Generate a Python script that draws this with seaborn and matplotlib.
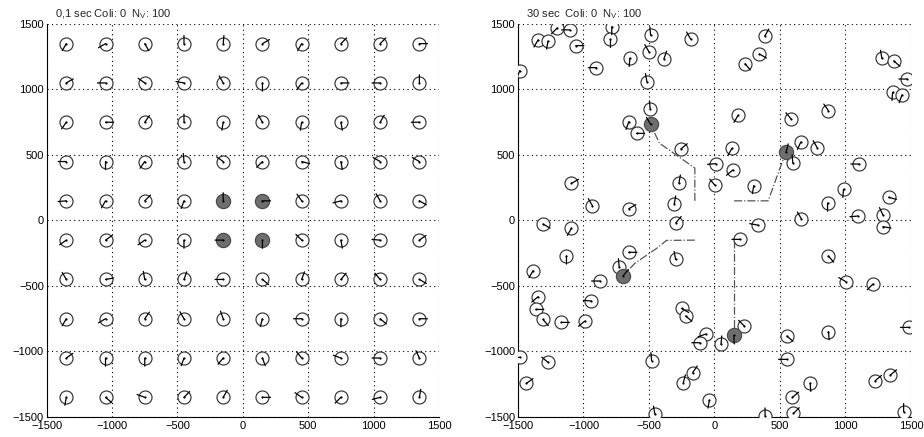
import numpy as np
import matplotlib
matplotlib.use("Agg")
import matplotlib.pyplot as plt
import seaborn as sns

# left panel: 10x10 start grid, heading of each vehicle (deg), row by row from top
grid_pos = [-1350, -1050, -750, -450, -150, 150, 450, 750, 1050, 1350]
left_heading = [
    [240, 210, 300, 90, 85, 30, 240, 45, 45, 0],
    [30, 180, 145, 170, 120, 270, 235, 0, 180, 90],
    [235, 0, 55, 90, 260, 120, 260, 280, 60, 180],
    [180, 270, 235, 95, 145, 225, 345, 280, 150, 150],
    [185, 240, 45, 250, 90, 0, 125, 195, 120, 330],
    [215, 35, 215, 270, 180, 270, 135, 280, 175, 35],
    [120, 10, 100, 70, 180, 320, 70, 50, 130, 330],
    [240, 210, 55, 120, 110, 255, 180, 270, 320, 0],
    [35, 270, 270, 250, 230, 290, 130, 160, 180, 115],
    [260, 320, 160, 45, 60, 0, 145, 225, 195, 80],
]
left_tracked_x = [-150, 150, -150, 150]
left_tracked_y = [150, 150, -150, -150]

# right panel: positions after 30 s
right_x = [-1200, -1105, -1347, -1271, -1059, -1487, -901, -784, -794, -646,
           -488, -501, -386, -182, -516, -491, -654, -595, -256, -271,
           -307, -654, -932, -1092, 9, 4, 134, 139, 300, 180,
           233, 343, 384, 598, 585, 659, 784, 870, 1103, 985,
           863, 1329, 1278, 1368, 1470, 1360, 1431, 664, 330, 1095,
           1286, 1286, -1309, -1092, -294, -1130, -1385, -1347, -1365, -1309,
           -1169, -990, -939, -876, -1487, -1271, -1436, -728, -654, -297,
           -251, -220, -67, -111, 50, 228, 195, -480, -167, -238,
           -39, -455, 386, 552, 552, 595, 603, 730, 870, 870,
           1003, 1210, 1227, 1342, 1444, 1482]
right_y = [1470, 1455, 1378, 1370, 1335, 1144, 1167, 1480, 1383, 1238,
           1416, 1289, 1235, 1385, 1060, 851, 754, 665, 546, 286,
           126, 90, 113, 283, 434, 268, 551, 385, 266, 803,
           1197, 1271, 1408, 439, 775, 599, 556, 838, 431, 238,
           133, 177, 1238, 1218, 1080, 978, 958, 11, -35, 34,
           42, -47, -27, -60, -17, -271, -383, -582, -679, -755,
           -778, -768, -615, -462, -1045, -1083, -1243, -353, -243, -297,
           -671, -729, -867, -933, -943, -806, -144, -1070, -1162, -1238,
           -1371, -1478, -1493, -882, -1060, -1350, -1473, -1243, -849, -271,
           -467, -485, -1223, -1180, -1460, -816]
right_heading = [225, 180, 240, 260, 0, 250, 180, 270, 270, 265,
                 95, 120, 70, 120, 100, 95, 250, 0, 40, 80,
                 80, 30, 120, 30, 185, 130, 240, 220, 260, 240,
                 310, 330, 60, 95, 130, 245, 120, 125, 180, 265,
                 270, 345, 100, 320, 180, 265, 250, 120, 170, 185,
                 115, 350, 330, 240, 50, 270, 240, 220, 0, 310,
                 0, 220, 175, 180, 180, 140, 35, 95, 0, 100,
                 330, 320, 200, 180, 85, 135, 180, 95, 55, 75,
                 260, 100, 90, 320, 180, 40, 45, 275, 275, 310,
                 150, 225, 40, 40, 90, 180]
right_tracked_x = [-488, 547, -697, 149]
right_tracked_y = [734, 525, -421, -877]
right_tracked_heading = [120, 75, 50, 270]

# trajectories of the four tracked vehicles
path_a_x = [-150, -150, -420, -488]
path_a_y = [150, 400, 590, 734]
path_b_x = [150, 410, 500, 547]
path_b_y = [150, 150, 400, 525]
path_c_x = [-150, -366, -442, -608, -697]
path_c_y = [-150, -152, -213, -327, -421]
path_d_x = [150, 150]
path_d_y = [-150, -940]

sns.set_style("white")
plt.rcParams['font.family'] = ['Liberation Sans', 'DejaVu Sans']
plt.rcParams['mathtext.default'] = 'regular'


def heading_segments(x, y, deg, length):
    x = np.asarray(x, float)
    y = np.asarray(y, float)
    a = np.radians(np.asarray(deg, float))
    ex = x + length * np.cos(a)
    ey = y + length * np.sin(a)
    nan = np.full_like(x, np.nan)
    return (np.column_stack([x, ex, nan]).ravel(),
            np.column_stack([y, ey, nan]).ravel())


def style_axes(ax, label):
    ax.set_xlim(-1500, 1500)
    ax.set_ylim(-1500, 1500)
    ticks = list(range(-1500, 1501, 500))
    ax.set_xticks(ticks)
    ax.set_yticks(ticks)
    ax.grid(True, linestyle=(0, (1, 3)), color='black', linewidth=0.8)
    ax.set_axisbelow(True)
    for s in ['top', 'right']:
        ax.spines[s].set_visible(False)
    for s in ['left', 'bottom']:
        ax.spines[s].set_color('black')
        ax.spines[s].set_linewidth(0.8)
    ax.tick_params(direction='in', length=2, labelsize=8, colors='black')
    ax.tick_params(axis='x', pad=3)
    ax.tick_params(axis='y', pad=2)
    ax.set_xlabel('')
    ax.set_ylabel('')
    ax.text(0.02, 1.008, label, transform=ax.transAxes, fontsize=8,
            ha='left', va='bottom')


fig = plt.figure(figsize=(9.24, 4.37), dpi=100)
ax1 = fig.add_axes([0.0505, 0.0458, 0.4246, 0.8993])
ax2 = fig.add_axes([0.5606, 0.0458, 0.4253, 0.8993])

circle_kw = dict(s=88, color='white', edgecolor='#333333', linewidth=0.85)
filled_kw = dict(s=105, color='#6e6e6e', edgecolor='#4a4a4a', linewidth=0.85)

# left panel
lx, ly = np.meshgrid(grid_pos, grid_pos[::-1])
lx = lx.ravel()
ly = ly.ravel()
lh = np.array(left_heading).ravel()
tracked = np.zeros(lx.shape, bool)
for tx, ty in zip(left_tracked_x, left_tracked_y):
    tracked |= (lx == tx) & (ly == ty)
sns.scatterplot(x=lx[~tracked], y=ly[~tracked], ax=ax1, zorder=3, **circle_kw)
sns.scatterplot(x=lx[tracked], y=ly[tracked], ax=ax1, zorder=3, **filled_kw)
sx, sy = heading_segments(lx, ly, lh, 62)
ax1.plot(sx, sy, color='black', lw=0.9, zorder=4)
ax1.scatter(lx, ly, s=2.5, color='black', zorder=5, linewidths=0)
style_axes(ax1, '0,1 sec Coli: 0  N$_{V}$: 100')

# right panel
for px, py in [(path_a_x, path_a_y), (path_b_x, path_b_y),
               (path_c_x, path_c_y), (path_d_x, path_d_y)]:
    ax2.plot(px, py, linestyle='-.', color='#555555', lw=0.9, zorder=2)
sns.scatterplot(x=right_x, y=right_y, ax=ax2, zorder=3, **circle_kw)
sns.scatterplot(x=right_tracked_x, y=right_tracked_y, ax=ax2, zorder=3, **filled_kw)
sx, sy = heading_segments(right_x + right_tracked_x, right_y + right_tracked_y,
                          right_heading + right_tracked_heading, 62)
ax2.plot(sx, sy, color='black', lw=0.9, zorder=4)
ax2.scatter(right_x + right_tracked_x, right_y + right_tracked_y, s=2.5,
            color='black', zorder=5, linewidths=0)
style_axes(ax2, '30 sec  Coli: 0  N$_{V}$: 100')

fig.savefig('out.png', dpi=100)
